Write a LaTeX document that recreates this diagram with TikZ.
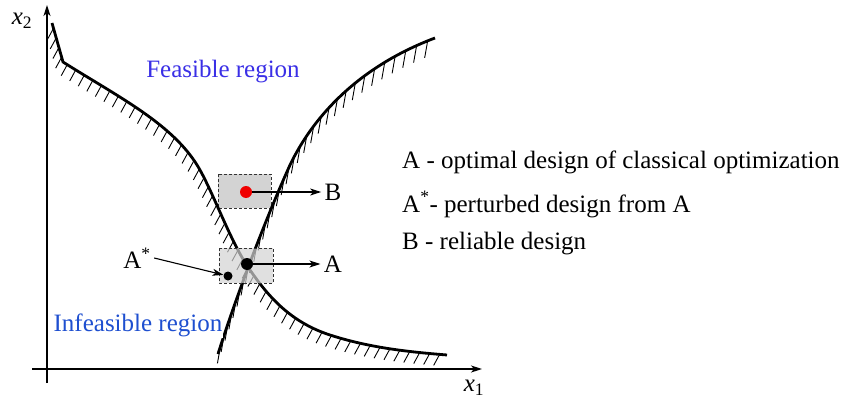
\documentclass[tikz,border=0pt]{standalone}
\usepackage{xcolor}
\usepackage{fontspec}
\setmainfont{Liberation Serif}
\usetikzlibrary{
  arrows.meta,
  decorations.markings
}
\definecolor{rdFeas}{HTML}{3A2FE6}
\definecolor{rdInfeas}{HTML}{1E4FD0}
\definecolor{rdBox}{HTML}{D3D3D3}
\definecolor{rdRed}{HTML}{F00000}

\begin{document}
\begin{tikzpicture}[x=1pt,y=-1pt,
  font=\rmfamily\fontsize{25}{30}\selectfont,
  tip/.style={-{Stealth[length=11pt,width=7pt,inset=3pt]}},
  axis/.style={line width=1.3pt},
  bound/.style={line width=2.8pt},
  pointer/.style={line width=1.1pt, tip},
  tolbox/.style={draw=black!80, line width=0.8pt, dash pattern=on 3pt off 2pt, fill=rdBox},
  designdot/.style={circle, fill=black, inner sep=0pt},
  hatchleft/.style={postaction={decorate, decoration={markings,
      mark=between positions 0.01 and 1 step 10pt with {\pgftransformresetnontranslations
        \draw[line width=0.9pt] (0,0) -- (-6,11);}}}},
  hatchright/.style={postaction={decorate, decoration={markings,
      mark=between positions 0.02 and 1 step 12pt with {\pgftransformresetnontranslations
        \draw[line width=0.9pt] (0,0) -- (-3,17);}}}}
]
  \useasboundingbox (0,0) rectangle (848,401);

  % axes
  \coordinate (yBot) at (47,383);
  \coordinate (yTop) at (47,5);
  \coordinate (xLft) at (32,369);
  \coordinate (xRgt) at (482,369);
  \draw[axis, tip] (yBot) -- (yTop);
  \draw[axis, tip] (xLft) -- (xRgt);
  \node (lblXtwo) at (22,21) {\textit{x}\textsubscript{2}};
  \node (lblXone) at (474,388) {\textit{x}\textsubscript{1}};

  % tolerance box round B
  \draw[tolbox] (218,174) rectangle (271,208);

  % limit state boundaries
  \draw[bound, hatchleft] (52,23) -- (63,62)
    .. controls (120,98) and (175,125) .. (200,170)
    .. controls (215,197) and (232,245) .. (250,270)
    .. controls (268,296) and (290,322) .. (330,335)
    .. controls (370,348) and (410,352) .. (447,355);
  \draw[bound, hatchright] (218,354)
    .. controls (235,300) and (265,220) .. (290,165)
    .. controls (313,117) and (358,67) .. (435,38);

  % tolerance box round A
  \draw[tolbox, fill opacity=0.7] (219,248) rectangle (273,283);

  % designs
  \node[designdot, fill=rdRed, minimum size=12pt] (ptB) at (246,192) {};
  \node[designdot, minimum size=12pt] (ptA) at (247,264) {};
  \node[designdot, minimum size=9pt] (ptAs) at (228,276) {};
  \node (labB) at (333,192) {B};
  \node (labA) at (333,264) {A};
  \node (labAs) at (137,258) {A\textsuperscript{*}};
  \draw[pointer] (ptB) -- (labB);
  \draw[pointer] (ptA) -- (labA);
  \draw[pointer] (labAs.east) -- (ptAs);

  % regions
  \node[text=rdFeas] (feas) at (223,72) {Feasible region};
  \node[text=rdInfeas, fill=white, inner sep=1pt] (infeas) at (138,325) {Infeasible region};

  % legend
  \foreach \yy/\txt in {
    168/{A - optimal design of classical optimization},
    212/{A\textsuperscript{*}- perturbed design from A},
    249/{B - reliable design}}{
    \node[anchor=base west, inner sep=0pt] (leg\yy) at (402,\yy) {\txt};
  }
\end{tikzpicture}
\end{document}
